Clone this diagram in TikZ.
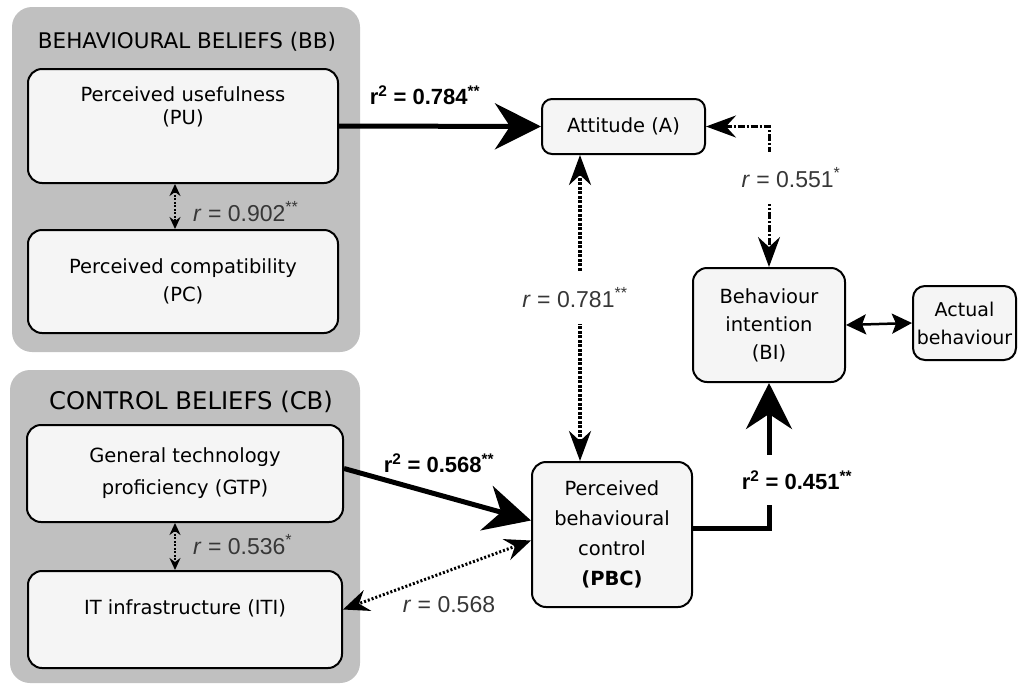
\documentclass[tikz,border=0pt]{standalone}
\usepackage{fontspec}
\setmainfont{DejaVu Sans}
\newfontfamily\labfont{Liberation Sans}
\usetikzlibrary{arrows.meta}
\definecolor{grp}{RGB}{192,192,192}
\definecolor{boxfill}{RGB}{245,245,245}
\definecolor{labgray}{RGB}{55,55,55}
\begin{document}
\begin{tikzpicture}[x=1pt,y=-1pt,
  group/.style={fill=grp, rounded corners=20pt, draw=none, inner sep=0pt},
  box/.style={draw=black, line width=2pt, fill=boxfill, rounded corners=14pt, inner sep=0pt, align=center, font=\fontsize{19.5}{28}\selectfont},
  boxtext/.style={inner sep=0pt, align=center, font=\fontsize{19.5}{23}\selectfont},
  rlab/.style={font=\labfont\fontsize{23}{26}\selectfont, text=labgray, inner sep=0pt},
  blab/.style={font=\labfont\bfseries\fontsize{22}{26}\selectfont, text=black, inner sep=0pt},
  gap/.style={fill=white, inner xsep=1pt, inner ysep=16pt},
  bigarrow/.style={line width=5pt, -{Stealth[length=46pt,width=46pt,inset=15pt]}},
  dotA/.style={line width=4pt, dash pattern=on 3pt off 1.5pt, {Stealth[length=30pt,width=22pt,inset=10pt]}-{Stealth[length=30pt,width=22pt,inset=10pt]}},
  dotB/.style={line width=3pt, dash pattern=on 7pt off 2pt on 2pt off 2pt, {Stealth[length=30pt,width=22pt,inset=10pt]}-{Stealth[length=30pt,width=22pt,inset=10pt]}},
  dotC/.style={line width=3pt, dash pattern=on 2pt off 2pt, {Stealth[length=26pt,width=22pt,inset=9pt]}-{Stealth[length=26pt,width=22pt,inset=9pt]}},
  dotS/.style={line width=2pt, dash pattern=on 2pt off 1.5pt, {Stealth[length=12pt,width=11pt,inset=4pt]}-{Stealth[length=12pt,width=11pt,inset=4pt]}},
  solidS/.style={line width=2.5pt, {Stealth[length=20pt,width=20pt,inset=4pt]}-{Stealth[length=20pt,width=20pt,inset=4pt]}}
]
\useasboundingbox (0,0) rectangle (1018,686);

% groups
\node[group, minimum width=348pt, minimum height=345pt] (BB) at (186,179.5) {};
\node[group, minimum width=350pt, minimum height=313pt] (CB) at (185,526.5) {};
\node[inner sep=0pt, font=\fontsize{21.5}{24}\selectfont] (BBt) at (187,42) {BEHAVIOURAL BELIEFS (BB)};
\node[inner sep=0pt, font=\fontsize{24.3}{27}\selectfont] (CBt) at (191,402) {CONTROL BELIEFS (CB)};

% boxes
\node[box, minimum width=310pt, minimum height=114pt] (PU) at (183,126) {};
\node[boxtext] (PUt) at (183,106.5) {Perceived usefulness\\(PU)};
\node[box, minimum width=310pt, minimum height=103pt] (PC) at (183,281.5) {Perceived compatibility\\(PC)};
\node[box, minimum width=316pt, minimum height=97pt, font=\fontsize{19.5}{32}\selectfont] (GTP) at (185,473.5) {General technology\\proficiency (GTP)};
\node[box, minimum width=314pt, minimum height=97pt] (ITI) at (185,619.5) {};
\node[boxtext] (ITIt) at (185,608) {IT infrastructure (ITI)};
\node[box, minimum width=163pt, minimum height=55pt, rounded corners=10pt] (A) at (623.5,126.5) {Attitude (A)};
\node[box, minimum width=160pt, minimum height=145pt, font=\fontsize{19.5}{30}\selectfont] (PBC) at (612,534.5) {Perceived\\behavioural\\control\\\textbf{(PBC)}};
\node[box, minimum width=152pt, minimum height=114pt] (BI) at (769,325) {Behaviour\\intention\\(BI)};
\node[box, minimum width=103pt, minimum height=74pt, rounded corners=12pt, font=\fontsize{19}{28}\selectfont] (Act) at (964.5,323) {Actual\\behaviour};

% helper coordinates
\coordinate (xa) at (580,0);
\coordinate (xp) at (175,0);

% connectors
\draw[bigarrow] (PU.east) -- (A.west);
\draw[bigarrow] ([yshift=5pt]GTP.east) -- ([yshift=14pt]PBC.west);
\draw[bigarrow] ([yshift=6pt]PBC.east) -| (BI.south);
\draw[dotA] (A.south -| xa) -- (PBC.north -| xa);
\draw[dotB] (A.east) -| (BI.north);
\draw[dotC] ([yshift=-6pt]PBC.west) -- ([yshift=10pt]ITI.east);
\draw[dotS] (PU.south -| xp) -- (PC.north -| xp);
\draw[dotS] (GTP.south -| xp) -- (ITI.north -| xp);
\draw[solidS] (BI.east) -- (Act.west);

% labels
\node[rlab, anchor=west] (l902) at (193,212) {\textit{r} = 0.902\textsuperscript{**}};
\node[rlab, anchor=west] (l536) at (193,545) {\textit{r} = 0.536\textsuperscript{*}};
\node[blab] (l784) at (425,95) {r\textsuperscript{2} = 0.784\textsuperscript{**}};
\node[blab] (l568b) at (439,463) {r\textsuperscript{2} = 0.568\textsuperscript{**}};
\node[rlab] (l568) at (449,605) {\textit{r} = 0.568};
\node[rlab, gap] (l781) at (575,298) {\textit{r} = 0.781\textsuperscript{**}};
\node[rlab, gap] (l551) at (791,178) {\textit{r} = 0.551\textsuperscript{*}};
\node[blab, gap] (l451) at (797,480) {r\textsuperscript{2} = 0.451\textsuperscript{**}};
\end{tikzpicture}
\end{document}
